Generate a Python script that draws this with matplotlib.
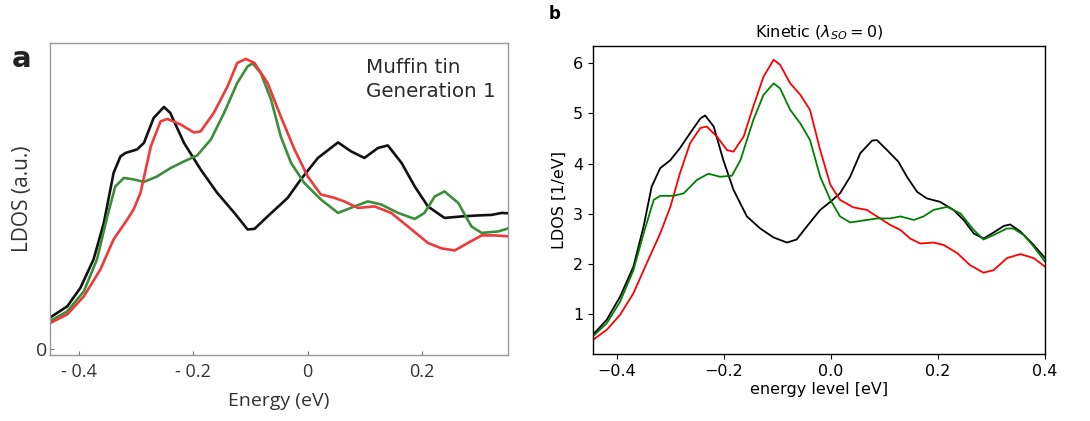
import matplotlib
matplotlib.use("Agg")
import matplotlib.pyplot as plt

# ---------------- Panel a data (Muffin tin, arbitrary units) ----------------
a_black_E = [-0.451, -0.42, -0.397, -0.374, -0.356, -0.339, -0.327, -0.318, -0.298, -0.286,
             -0.269, -0.251, -0.240, -0.216, -0.187, -0.158, -0.128, -0.105, -0.093, -0.070,
             -0.035, -0.012, 0.018, 0.053, 0.076, 0.099, 0.123, 0.140, 0.164, 0.187,
             0.210, 0.239, 0.269, 0.298, 0.321, 0.339, 0.353]
a_black_V = [0.62, 0.85, 1.22, 1.79, 2.52, 3.52, 3.85, 3.92, 3.99, 4.12,
             4.62, 4.84, 4.72, 4.12, 3.59, 3.12, 2.72, 2.39, 2.40, 2.65,
             3.02, 3.39, 3.82, 4.13, 3.95, 3.82, 4.02, 4.07, 3.72, 3.25,
             2.85, 2.62, 2.65, 2.67, 2.68, 2.72, 2.71]

a_red_E = [-0.451, -0.42, -0.391, -0.362, -0.339, -0.315, -0.304, -0.292, -0.274, -0.257,
           -0.245, -0.222, -0.199, -0.187, -0.164, -0.140, -0.123, -0.108, -0.093, -0.070,
           -0.047, -0.023, 0.0, 0.023, 0.047, 0.064, 0.088, 0.117, 0.146, 0.175,
           0.210, 0.234, 0.257, 0.280, 0.304, 0.327, 0.353]
a_red_V = [0.51, 0.69, 1.05, 1.59, 2.19, 2.59, 2.79, 3.12, 4.05, 4.55,
           4.60, 4.49, 4.33, 4.35, 4.72, 5.25, 5.72, 5.80, 5.72, 5.32,
           4.65, 3.99, 3.45, 3.09, 3.02, 2.95, 2.82, 2.85, 2.72, 2.45,
           2.12, 2.01, 1.97, 2.12, 2.27, 2.27, 2.25]

a_green_E = [-0.451, -0.42, -0.391, -0.368, -0.350, -0.336, -0.321, -0.304, -0.286, -0.263,
             -0.239, -0.216, -0.193, -0.169, -0.146, -0.123, -0.105, -0.096, -0.082, -0.064,
             -0.047, -0.029, -0.006, 0.023, 0.053, 0.082, 0.105, 0.128, 0.158, 0.187,
             0.204, 0.222, 0.239, 0.263, 0.286, 0.304, 0.333, 0.353]
a_green_V = [0.55, 0.75, 1.15, 1.79, 2.65, 3.25, 3.42, 3.39, 3.34, 3.45,
             3.62, 3.75, 3.87, 4.19, 4.72, 5.32, 5.65, 5.71, 5.52, 4.99,
             4.25, 3.72, 3.32, 2.99, 2.72, 2.85, 2.95, 2.89, 2.72, 2.60,
             2.72, 3.05, 3.15, 2.92, 2.45, 2.32, 2.35, 2.42]

a_xticks = [-0.4, -0.2, 0.0, 0.2]
a_xticklabels = ["- 0.4", "- 0.2", "0", "0.2"]
a_text_lines = ["Muffin tin", "Generation 1"]

# ---------------- Panel b data (Kinetic, LDOS in 1/eV) ----------------
b_black_E = [-0.445, -0.419, -0.394, -0.369, -0.350, -0.335, -0.319, -0.300, -0.282, -0.263,
             -0.244, -0.235, -0.219, -0.201, -0.182, -0.157, -0.132, -0.107, -0.082, -0.064,
             -0.045, -0.020, -0.001, 0.017, 0.036, 0.055, 0.077, 0.086, 0.105, 0.126,
             0.142, 0.161, 0.179, 0.204, 0.229, 0.248, 0.267, 0.285, 0.304, 0.323,
             0.335, 0.354, 0.379, 0.400]
b_black_V = [0.59, 0.89, 1.35, 1.95, 2.75, 3.54, 3.91, 4.07, 4.31, 4.61,
             4.90, 4.96, 4.74, 4.07, 3.48, 2.95, 2.71, 2.53, 2.43, 2.49,
             2.75, 3.08, 3.24, 3.41, 3.74, 4.21, 4.46, 4.47, 4.27, 4.04,
             3.74, 3.44, 3.31, 3.24, 3.08, 2.88, 2.61, 2.51, 2.63, 2.76,
             2.79, 2.65, 2.38, 2.12]

b_red_E = [-0.445, -0.419, -0.394, -0.369, -0.344, -0.319, -0.300, -0.282, -0.263, -0.244,
           -0.232, -0.213, -0.194, -0.182, -0.163, -0.145, -0.126, -0.107, -0.095, -0.076,
           -0.057, -0.039, -0.020, -0.001, 0.017, 0.042, 0.067, 0.086, 0.111, 0.130,
           0.148, 0.167, 0.192, 0.211, 0.236, 0.260, 0.285, 0.304, 0.329, 0.354,
           0.379, 0.400]
b_red_V = [0.49, 0.69, 0.99, 1.42, 2.02, 2.61, 3.14, 3.81, 4.41, 4.71,
           4.74, 4.54, 4.27, 4.24, 4.54, 5.14, 5.73, 6.07, 5.97, 5.60,
           5.37, 5.07, 4.27, 3.58, 3.28, 3.13, 3.08, 2.95, 2.78, 2.68,
           2.51, 2.41, 2.43, 2.38, 2.22, 1.98, 1.83, 1.88, 2.12, 2.20,
           2.12, 1.95]

b_green_E = [-0.445, -0.419, -0.394, -0.369, -0.350, -0.331, -0.319, -0.294, -0.275, -0.250,
             -0.229, -0.207, -0.185, -0.169, -0.145, -0.126, -0.107, -0.095, -0.076, -0.057,
             -0.039, -0.020, -0.001, 0.017, 0.036, 0.061, 0.086, 0.111, 0.130, 0.155,
             0.173, 0.192, 0.217, 0.242, 0.267, 0.285, 0.304, 0.329, 0.341, 0.360,
             0.379, 0.400]
b_green_V = [0.56, 0.82, 1.25, 1.88, 2.61, 3.28, 3.36, 3.36, 3.41, 3.68,
             3.80, 3.74, 3.76, 4.07, 4.87, 5.37, 5.60, 5.50, 5.07, 4.80,
             4.47, 3.74, 3.28, 2.95, 2.83, 2.87, 2.91, 2.91, 2.95, 2.88,
             2.95, 3.08, 3.14, 3.01, 2.68, 2.49, 2.58, 2.71, 2.71, 2.58,
             2.35, 2.05]

b_xticks = [-0.4, -0.2, 0.0, 0.2, 0.4]
b_yticks = [1, 2, 3, 4, 5, 6]

# ---------------- Figure ----------------
fig = plt.figure(figsize=(10.9, 4.21), dpi=100)

# Panel a
gray = "#333333"
fa = "Open Sans"
axa = fig.add_axes([0.0459, 0.157, 0.4202, 0.741])
lw_a = 1.9
axa.plot(a_black_E, a_black_V, color="#111111", lw=lw_a, solid_joinstyle="round")
axa.plot(a_green_E, a_green_V, color="#3b8f3b", lw=lw_a, solid_joinstyle="round")
axa.plot(a_red_E, a_red_V, color="#ee3a3a", lw=lw_a, solid_joinstyle="round")
axa.set_xlim(-0.45, 0.35)
axa.set_ylim(-0.12, 6.12)
for s in axa.spines.values():
    s.set_color("#999999")
    s.set_linewidth(1.0)
axa.set_xticks(a_xticks)
axa.set_xticklabels(a_xticklabels, fontfamily=fa)
axa.set_yticks([0])
axa.set_yticklabels(["0"], fontfamily=fa)
axa.tick_params(axis="both", direction="in", colors="#777777", labelcolor=gray,
                labelsize=13, length=3, width=0.8)
axa.tick_params(axis="x", pad=6)
axa.tick_params(axis="y", pad=2, labelsize=14)
axa.set_xlabel("Energy (eV)", fontsize=14, color=gray, labelpad=8, fontfamily=fa)
axa.set_ylabel("LDOS (a.u.)", fontsize=15, color=gray, labelpad=2, fontfamily=fa)
for line, yfrac in zip(a_text_lines, [0.905, 0.828]):
    axa.text(0.690, yfrac, line, transform=axa.transAxes, fontsize=14.3,
             color="#2a2a2a", va="baseline", ha="left", fontfamily="DejaVu Sans")
fig.text(0.011, 0.84, "a", fontsize=21, fontweight="bold", color="#222222")

# Panel b
axb = fig.add_axes([0.5438, 0.1591, 0.4149, 0.7324])
lw_b = 1.3
axb.plot(b_black_E, b_black_V, color="black", lw=lw_b, solid_joinstyle="round")
axb.plot(b_red_E, b_red_V, color="red", lw=lw_b, solid_joinstyle="round")
axb.plot(b_green_E, b_green_V, color="green", lw=lw_b, solid_joinstyle="round")
axb.set_xlim(-0.445, 0.4)
axb.set_ylim(0.21, 6.35)
axb.set_xticks(b_xticks)
axb.set_yticks(b_yticks)
axb.tick_params(labelsize=11.5)
axb.set_xlabel("energy level [eV]", fontsize=11.5, labelpad=2)
axb.set_ylabel("LDOS [1/eV]", fontsize=11.5)
axb.set_title(r"Kinetic ($\lambda_{SO} = 0$)", fontsize=11.5, pad=6)
for s in axb.spines.values():
    s.set_linewidth(1.0)
fig.text(0.5035, 0.955, "b", fontsize=12, fontweight="bold")

fig.savefig("out.png", dpi=100)
